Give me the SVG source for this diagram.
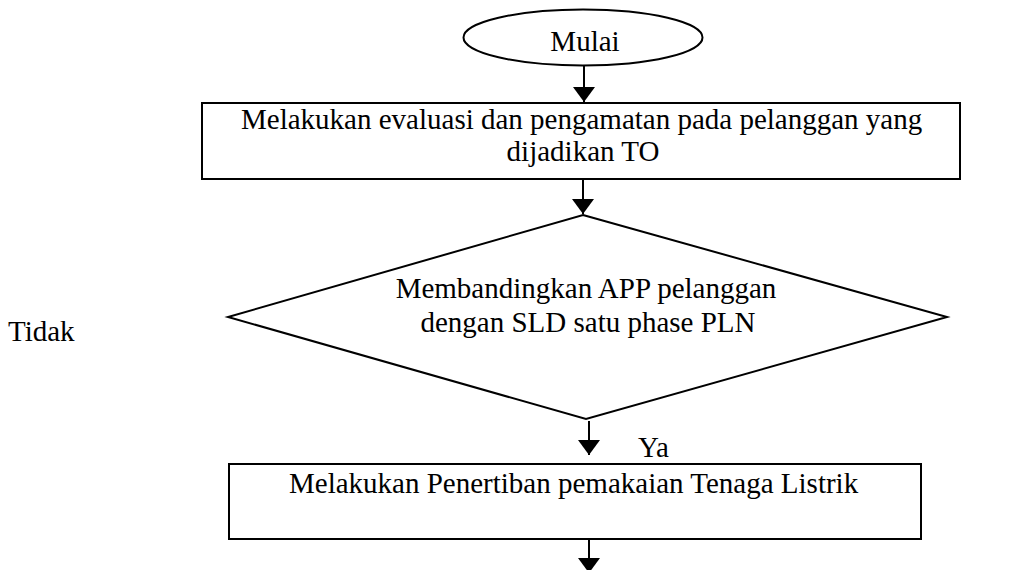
<svg xmlns="http://www.w3.org/2000/svg" width="1012" height="570" viewBox="0 0 1012 570">
<defs>
<marker id="ah" viewBox="0 0 15 22" refX="15" refY="11" markerWidth="15" markerHeight="22" markerUnits="userSpaceOnUse" orient="auto">
<path d="M0,0 L15,11 L0,22 Z" fill="#000"/>
</marker>
<style>
.shape{fill:#fff;stroke:#000;stroke-width:2}
.t{font-family:"Liberation Serif","Times New Roman","DejaVu Serif",serif;font-size:29px;fill:#000}
.c{stroke:#000;stroke-width:2;fill:none;marker-end:url(#ah)}
</style>
</defs>
<rect width="1012" height="570" fill="#fff"/>
<g id="connectors">
<line class="c" x1="584" y1="66" x2="584" y2="102"/>
<line class="c" x1="583" y1="180" x2="583" y2="214"/>
<line class="c" x1="589" y1="421" x2="589" y2="455"/>
<line class="c" x1="589" y1="540" x2="589" y2="573"/>
</g>
<g id="start">
<ellipse class="shape" cx="583" cy="37.5" rx="119.5" ry="28"/>
<text class="t" x="585" y="51" text-anchor="middle">Mulai</text>
</g>
<g id="evaluasi">
<rect class="shape" x="202" y="103" width="758" height="76"/>
<text class="t" x="241" y="129">Melakukan evaluasi dan pengamatan pada pelanggan yang</text>
<text class="t" x="583" y="161" text-anchor="middle">dijadikan TO</text>
</g>
<g id="decision">
<polygon class="shape" points="583,215 947,317 586,419 228,317"/>
<text class="t" x="586" y="298" text-anchor="middle">Membandingkan APP pelanggan</text>
<text class="t" x="588" y="332" text-anchor="middle">dengan SLD satu phase PLN</text>
</g>
<g id="labels">
<text class="t" x="8" y="341">Tidak</text>
<text class="t" x="638" y="457">Ya</text>
</g>
<g id="penertiban">
<rect class="shape" x="229" y="464" width="692" height="75"/>
<text class="t" x="289" y="493">Melakukan Penertiban pemakaian Tenaga Listrik</text>
</g>
</svg>
